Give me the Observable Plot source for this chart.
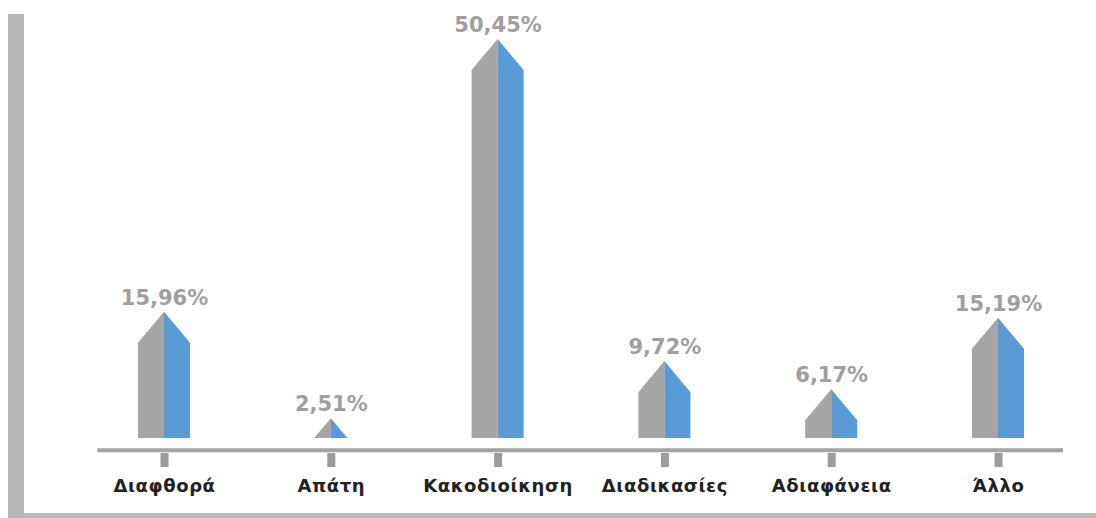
<!DOCTYPE html>
<html>
<head>
<meta charset="utf-8">
<script src="https://cdn.jsdelivr.net/npm/d3@7"></script>
<script src="https://cdn.jsdelivr.net/npm/@observablehq/plot@0.6"></script>
<style>
  html, body { margin: 0; padding: 0; background: #fff; }
  #wrap { position: relative; width: 1096px; height: 518px; overflow: hidden; }
  #frameLeft { position: absolute; left: 8px; top: 14px; width: 16px; height: 504px; background: #b8b8b8; }
  #frameBottom { position: absolute; left: 8px; top: 513px; width: 1088px; height: 5px; background: #b8b8b8; }
  #chart { position: absolute; left: 0; top: 0; }
  #chart svg text { font-family: "DejaVu Sans", sans-serif; }
  g[aria-label="x-axis tick label"] text { font-weight: bold; letter-spacing: 0.6px; }
</style>
</head>
<body>
<div id="wrap">
  <div id="frameLeft"></div>
  <div id="frameBottom"></div>
  <div id="chart"></div>
</div>
<script>
const categories = ["Διαφθορά", "Απάτη", "Κακοδιοίκηση", "Διαδικασίες", "Αδιαφάνεια", "Άλλο"];
const values = [15.96, 2.51, 50.45, 9.72, 6.17, 15.19];
const valueLabels = ["15,96%", "2,51%", "50,45%", "9,72%", "6,17%", "15,19%"];

// shape constants (in scale units): half width of a bar, drop from apex to shoulder
const HW = 0.156, DROP = 3.92;

const shapes = [];
values.forEach((v, i) => {
  const dx = v >= DROP ? HW : HW * v / DROP;
  const ys = v >= DROP ? v - DROP : 0;
  shapes.push({id: "L" + i, side: "left", x: i - dx, y: ys});
  shapes.push({id: "L" + i, side: "left", x: i, y: v});
  shapes.push({id: "R" + i, side: "right", x: i, y: v});
  shapes.push({id: "R" + i, side: "right", x: i + dx, y: ys});
});
const points = values.map((v, i) => ({i, v, label: valueLabels[i]}));

const chart = Plot.plot({
  width: 1096,
  height: 518,
  marginLeft: 80.6,
  marginRight: 14.6,
  marginTop: 0,
  marginBottom: 65,
  style: {background: "transparent", overflow: "visible"},
  x: {type: "linear", domain: [-0.5, 5.5]},
  y: {domain: [0, 55], range: [438, 3], axis: null},
  color: {type: "ordinal", domain: ["left", "right"], range: ["#a5a5a5", "#5b9bd5"]},
  marks: [
    Plot.ruleY([-1.5], {x1: -0.4, x2: 5.39, stroke: "#a3a3a3", strokeWidth: 4}),
    Plot.area(shapes, {x1: "x", y1: 0, y2: "y", z: "id", fill: "side"}),
    Plot.text(points, {x: "i", y: "v", dy: -14, text: "label", fill: "#a19e9e", fontSize: 21, fontWeight: "bold"}),
    Plot.axisX({
      ticks: d3.range(categories.length),
      tickFormat: i => categories[i],
      tickSize: 14,
      tickPadding: 12,
      strokeWidth: 8,
      stroke: "#9c9c9c",
      fill: "#222",
      fontSize: 18,
      fontWeight: "bold",
      label: null
    })
  ]
});
document.getElementById("chart").appendChild(chart);
</script>
</body>
</html>
